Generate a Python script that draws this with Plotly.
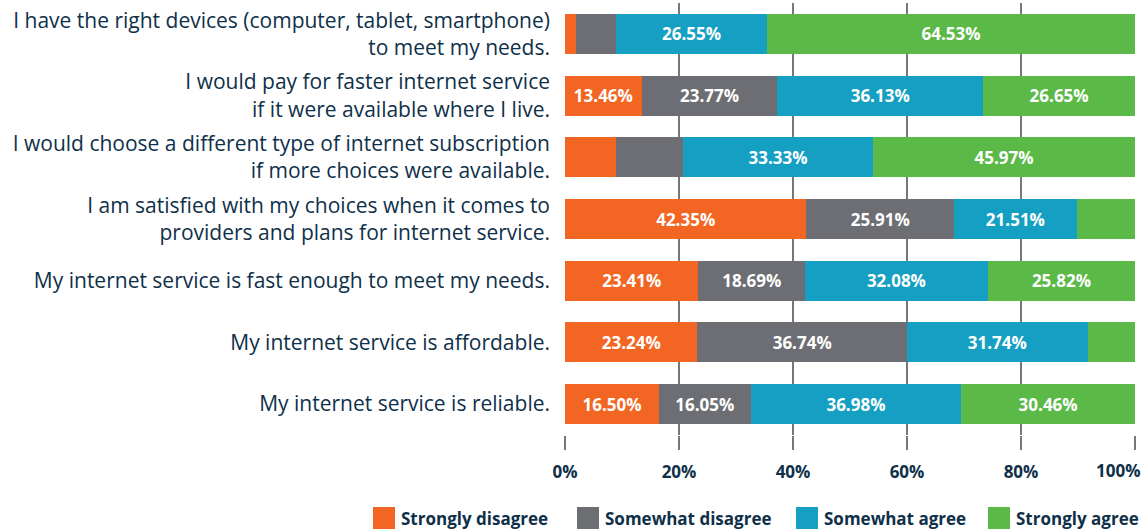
import plotly.graph_objects as go

# ── Data ───────────────────────────────────────────────────────────────────
STATEMENTS = [
    "I have the right devices (computer, tablet, smartphone)<br>to meet my needs.",
    "I would pay for faster internet service<br>if it were available where I live.",
    "I would choose a different type of internet subscription<br>if more choices were available.",
    "I am satisfied with my choices when it comes to<br>providers and plans for internet service.",
    "My internet service is fast enough to meet my needs.",
    "My internet service is affordable.",
    "My internet service is reliable.",
]

STRONGLY_DISAGREE = [1.95, 13.46, 8.90, 42.35, 23.41, 23.24, 16.50]
SOMEWHAT_DISAGREE = [6.97, 23.77, 11.80, 25.91, 18.69, 36.74, 16.05]
SOMEWHAT_AGREE    = [26.55, 36.13, 33.33, 21.51, 32.08, 31.74, 36.98]
STRONGLY_AGREE    = [64.53, 26.65, 45.97, 10.23, 25.82, 8.28, 30.46]

# segments too narrow to carry a label in the original
MIN_LABEL = 12.0

X_TICKS = [0, 20, 40, 60, 80, 100]
X_TICK_LABELS = ["0%", "20%", "40%", "60%", "80%", "100%"]

# ── Styling ────────────────────────────────────────────────────────────────
NAVY   = "#0f3049"
GRID   = "#77777a"
FONT   = "'Open Sans', Lato, sans-serif"

W, H = 1144, 532
M_L, M_R, M_T, M_B = 565, 9, 3, 97

SERIES = [
    ("Strongly disagree", STRONGLY_DISAGREE, "#f26522"),
    ("Somewhat disagree", SOMEWHAT_DISAGREE, "#6d6e73"),
    ("Somewhat agree",    SOMEWHAT_AGREE,    "#159fc2"),
    ("Strongly agree",    STRONGLY_AGREE,    "#5ab947"),
]

# legend swatch left edges, in page pixels
LEGEND_X = [373, 577, 796, 988]
LEGEND_Y = 518
SWATCH = 22


def _px_to_paper_x(px: float) -> float:
    return (px - M_L) / (W - M_L - M_R)


def _px_to_paper_y(py: float) -> float:
    return 1 - (py - M_T) / (H - M_T - M_B)


fig = go.Figure()
for name, values, color in SERIES:
    labels = [f"{v:.2f}%" if v >= MIN_LABEL else "" for v in values]
    fig.add_trace(go.Bar(
        y=STATEMENTS,
        x=values,
        name=name,
        orientation="h",
        marker=dict(color=color, line=dict(width=0)),
        text=labels,
        textposition="inside",
        insidetextanchor="middle",
        textfont=dict(family=FONT, size=17, color="white", weight="bold"),
        hovertemplate="%{y}<br>" + name + ": %{x:.2f}%<extra></extra>",
    ))

# hand-built legend with large square swatches
for (name, _, color), lx in zip(SERIES, LEGEND_X):
    fig.add_shape(
        type="rect", xref="paper", yref="paper",
        x0=_px_to_paper_x(lx), x1=_px_to_paper_x(lx + SWATCH),
        y0=_px_to_paper_y(LEGEND_Y + SWATCH / 2), y1=_px_to_paper_y(LEGEND_Y - SWATCH / 2),
        fillcolor=color, line=dict(width=0),
    )
    fig.add_annotation(
        text=name, xref="paper", yref="paper",
        x=_px_to_paper_x(lx + SWATCH + 4), y=_px_to_paper_y(LEGEND_Y),
        xanchor="left", yanchor="middle", showarrow=False,
        font=dict(family=FONT, size=17, color=NAVY, weight="bold"),
    )

# the last tick label would run off the page, so pin it to the right edge
tick_text = X_TICK_LABELS[:-1] + [""]
fig.add_annotation(
    text=X_TICK_LABELS[-1], xref="x", yref="paper",
    x=X_TICKS[-1], y=_px_to_paper_y(471),
    xanchor="right", xshift=7, yanchor="middle", showarrow=False,
    font=dict(family=FONT, size=17, color=NAVY, weight="bold"),
)

fig.update_layout(
    barmode="stack",
    bargap=0.35,
    width=W,
    height=H,
    margin=dict(l=M_L, r=M_R, t=M_T, b=M_B, autoexpand=False),
    paper_bgcolor="white",
    plot_bgcolor="white",
    font=dict(family=FONT, size=21, color=NAVY),
    uniformtext=dict(minsize=10, mode="show"),
    showlegend=False,
    xaxis=dict(
        range=[0, 100],
        tickvals=X_TICKS,
        ticktext=tick_text,
        showgrid=True,
        gridcolor=GRID,
        gridwidth=2,
        zeroline=False,
        showline=False,
        ticks="outside",
        ticklen=14,
        tickwidth=2,
        tickcolor=GRID,
        ticklabelstandoff=8,
        tickfont=dict(family=FONT, size=17, color=NAVY, weight="bold"),
        automargin=False,
        fixedrange=True,
    ),
    yaxis=dict(
        autorange="reversed",
        showgrid=False,
        ticks="",
        ticklabelstandoff=14,
        tickfont=dict(family=FONT, size=21, color=NAVY),
        automargin=False,
        fixedrange=True,
    ),
)

# the page body has a default 8px margin; drop it so the figure sits at 0,0
fig.write_html(
    "out.html",
    config={"displayModeBar": False},
    post_script="document.body.style.margin = '0';",
)
